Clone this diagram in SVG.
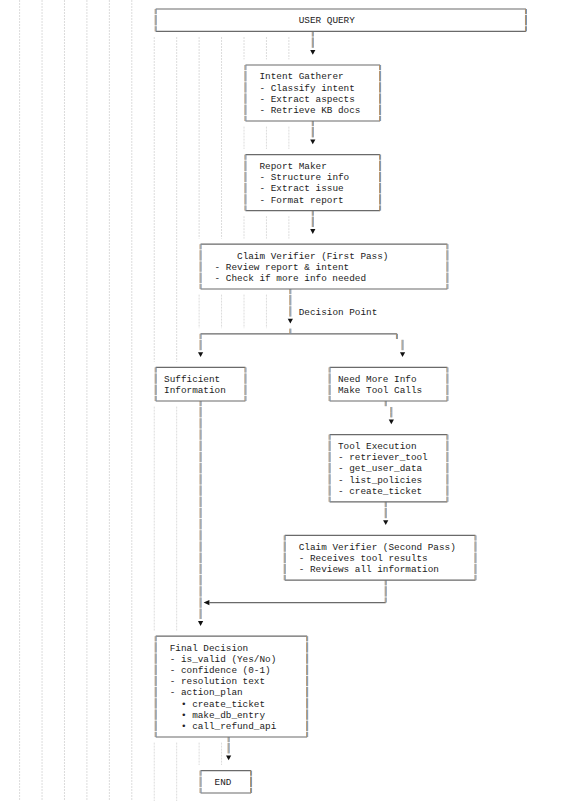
<svg xmlns="http://www.w3.org/2000/svg" width="580" height="801" viewBox="0 0 580 801">
<style>
text{font-family:"Liberation Mono","DejaVu Sans Mono",monospace;font-size:9.35px;fill:#222}
.g{stroke:#dcdcdc;stroke-width:1;stroke-dasharray:2 1;fill:none}
.h{stroke:#6a6a6a;stroke-width:1.2;fill:none}
.vt{stroke:#b08c62;stroke-width:1;fill:none;stroke-dasharray:10.4 0.8;stroke-dashoffset:5.2}
.vb{stroke:#7590ae;stroke-width:1;fill:none;stroke-dasharray:10.4 0.8;stroke-dashoffset:5.2}
.ar{fill:#111}
</style>
<defs>
<path id="ad" d="M-2.6 -3.9H2.6L0 0.9Z"/>
</defs>
<rect width="580" height="801" fill="#fff"/>
<g id="guides" class="g">
<path d="M19.6 0V801M42.04 0V801M64.48 0V801M86.92 0V801M109.36 0V801M131.8 0V801M154.24 37V361.8M154.24 406.6V630.6M154.24 742.6V801M176.68 37V361.8M176.68 406.6V630.6M176.68 742.6V801M199.12 37V238.6M199.12 294.6V328.2M199.12 742.6V765M221.56 37V238.6M221.56 294.6V328.2M221.56 742.6V765M244 37V59.4M244 126.6V149M244 216.2V238.6M244 294.6V328.2M266.44 37V59.4M266.44 126.6V149M266.44 216.2V238.6M266.44 294.6V328.2M288.88 37V59.4M288.88 126.6V149M288.88 216.2V238.6"/>
</g>
<g id="connectors">
<path class="h" d="M200.58 333.8H396.93M209.4 602.6H385.71"/>
<path class="vt" transform="translate(-0.5 0)" d="M312.78 31.4V48.2M312.78 121V137.8M312.78 210.6V227.4M290.34 289V317M290.34 333.8V328.2M200.58 333.8V350.6M396.93 333.8V339.4M402.54 345V339.4M402.54 345V350.6M385.71 401V406.6M391.32 412.2V406.6M391.32 412.2V417.8M385.71 501.8V518.6M385.71 580.2V602.6M200.58 401V619.4M228.63 737V753.8"/>
<path class="vb" transform="translate(0.5 0)" d="M312.78 31.4V48.2M312.78 121V137.8M312.78 210.6V227.4M290.34 289V317M290.34 333.8V328.2M200.58 333.8V350.6M396.93 333.8V339.4M402.54 345V339.4M402.54 345V350.6M385.71 401V406.6M391.32 412.2V406.6M391.32 412.2V417.8M385.71 501.8V518.6M385.71 580.2V602.6M200.58 401V619.4M228.63 737V753.8"/>
<g class="ar">
<use href="#ad" x="312.78" y="53.8"/>
<use href="#ad" x="312.78" y="143.4"/>
<use href="#ad" x="312.78" y="233"/>
<use href="#ad" x="290.34" y="322.6"/>
<use href="#ad" x="200.58" y="356.2"/>
<use href="#ad" x="402.54" y="356.2"/>
<use href="#ad" x="391.32" y="423.4"/>
<use href="#ad" x="385.71" y="524.2"/>
<use href="#ad" x="200.58" y="625"/>
<use href="#ad" x="228.63" y="759.4"/>
<path d="M203.6 602.6L209.4 600L209.4 605.2Z"/>
</g>
<text x="298.76" y="314.5">Decision Point</text>
</g>
<g id="user-query">
<path class="h" d="M155.7 9H525.96M155.7 31.4H525.96"/>
<path class="vt" transform="translate(-0.5 0)" d="M155.7 9V31.4M525.96 9V31.4"/>
<path class="vb" transform="translate(0.5 0)" d="M155.7 9V31.4M525.96 9V31.4"/>
<text x="298.76" y="23.3">USER QUERY</text>
</g>
<g id="intent-gatherer">
<path class="h" d="M245.46 65H380.1M245.46 121H380.1"/>
<path class="vt" transform="translate(-0.5 0)" d="M245.46 65V121M380.1 65V121"/>
<path class="vb" transform="translate(0.5 0)" d="M245.46 65V121M380.1 65V121"/>
<text x="259.49" y="79.3">Intent Gatherer</text>
<text x="259.49" y="90.5">- Classify intent</text>
<text x="259.49" y="101.7">- Extract aspects</text>
<text x="259.49" y="112.9">- Retrieve KB docs</text>
</g>
<g id="report-maker">
<path class="h" d="M245.46 154.6H380.1M245.46 210.6H380.1"/>
<path class="vt" transform="translate(-0.5 0)" d="M245.46 154.6V210.6M380.1 154.6V210.6"/>
<path class="vb" transform="translate(0.5 0)" d="M245.46 154.6V210.6M380.1 154.6V210.6"/>
<text x="259.49" y="168.9">Report Maker</text>
<text x="259.49" y="180.1">- Structure info</text>
<text x="259.49" y="191.3">- Extract issue</text>
<text x="259.49" y="202.5">- Format report</text>
</g>
<g id="claim-verifier-first">
<path class="h" d="M200.58 244.2H447.42M200.58 289H447.42"/>
<path class="vt" transform="translate(-0.5 0)" d="M200.58 244.2V289M447.42 244.2V289"/>
<path class="vb" transform="translate(0.5 0)" d="M200.58 244.2V289M447.42 244.2V289"/>
<text x="237.05" y="258.5">Claim Verifier (First Pass)</text>
<text x="214.61" y="269.7">- Review report &amp; intent</text>
<text x="214.61" y="280.9">- Check if more info needed</text>
</g>
<g id="sufficient-information">
<path class="h" d="M155.7 367.4H245.46M155.7 401H245.46"/>
<path class="vt" transform="translate(-0.5 0)" d="M155.7 367.4V401M245.46 367.4V401"/>
<path class="vb" transform="translate(0.5 0)" d="M155.7 367.4V401M245.46 367.4V401"/>
<text x="164.12" y="381.7">Sufficient</text>
<text x="164.12" y="392.9">Information</text>
</g>
<g id="need-more-info">
<path class="h" d="M329.61 367.4H447.42M329.61 401H447.42"/>
<path class="vt" transform="translate(-0.5 0)" d="M329.61 367.4V401M447.42 367.4V401"/>
<path class="vb" transform="translate(0.5 0)" d="M329.61 367.4V401M447.42 367.4V401"/>
<text x="338.03" y="381.7">Need More Info</text>
<text x="338.03" y="392.9">Make Tool Calls</text>
</g>
<g id="tool-execution">
<path class="h" d="M329.61 434.6H447.42M329.61 501.8H447.42"/>
<path class="vt" transform="translate(-0.5 0)" d="M329.61 434.6V501.8M447.42 434.6V501.8"/>
<path class="vb" transform="translate(0.5 0)" d="M329.61 434.6V501.8M447.42 434.6V501.8"/>
<text x="338.03" y="448.9">Tool Execution</text>
<text x="338.03" y="460.1">- retriever_tool</text>
<text x="338.03" y="471.3">- get_user_data</text>
<text x="338.03" y="482.5">- list_policies</text>
<text x="338.03" y="493.7">- create_ticket</text>
</g>
<g id="claim-verifier-second">
<path class="h" d="M284.73 535.4H475.47M284.73 580.2H475.47"/>
<path class="vt" transform="translate(-0.5 0)" d="M284.73 535.4V580.2M475.47 535.4V580.2"/>
<path class="vb" transform="translate(0.5 0)" d="M284.73 535.4V580.2M475.47 535.4V580.2"/>
<text x="298.76" y="549.7">Claim Verifier (Second Pass)</text>
<text x="298.76" y="560.9">- Receives tool results</text>
<text x="298.76" y="572.1">- Reviews all information</text>
</g>
<g id="final-decision">
<path class="h" d="M155.7 636.2H307.17M155.7 737H307.17"/>
<path class="vt" transform="translate(-0.5 0)" d="M155.7 636.2V737M307.17 636.2V737"/>
<path class="vb" transform="translate(0.5 0)" d="M155.7 636.2V737M307.17 636.2V737"/>
<text x="169.73" y="650.5">Final Decision</text>
<text x="169.73" y="661.7">- is_valid (Yes/No)</text>
<text x="169.73" y="672.9">- confidence (0-1)</text>
<text x="169.73" y="684.1">- resolution text</text>
<text x="169.73" y="695.3">- action_plan</text>
<text x="180.95" y="706.5">• create_ticket</text>
<text x="180.95" y="717.7">• make_db_entry</text>
<text x="180.95" y="728.9">• call_refund_api</text>
</g>
<g id="end">
<path class="h" d="M200.58 770.6H251.07M200.58 793H251.07"/>
<path class="vt" transform="translate(-0.5 0)" d="M200.58 770.6V793M251.07 770.6V793"/>
<path class="vb" transform="translate(0.5 0)" d="M200.58 770.6V793M251.07 770.6V793"/>
<text x="214.61" y="784.9">END</text>
</g>
</svg>
